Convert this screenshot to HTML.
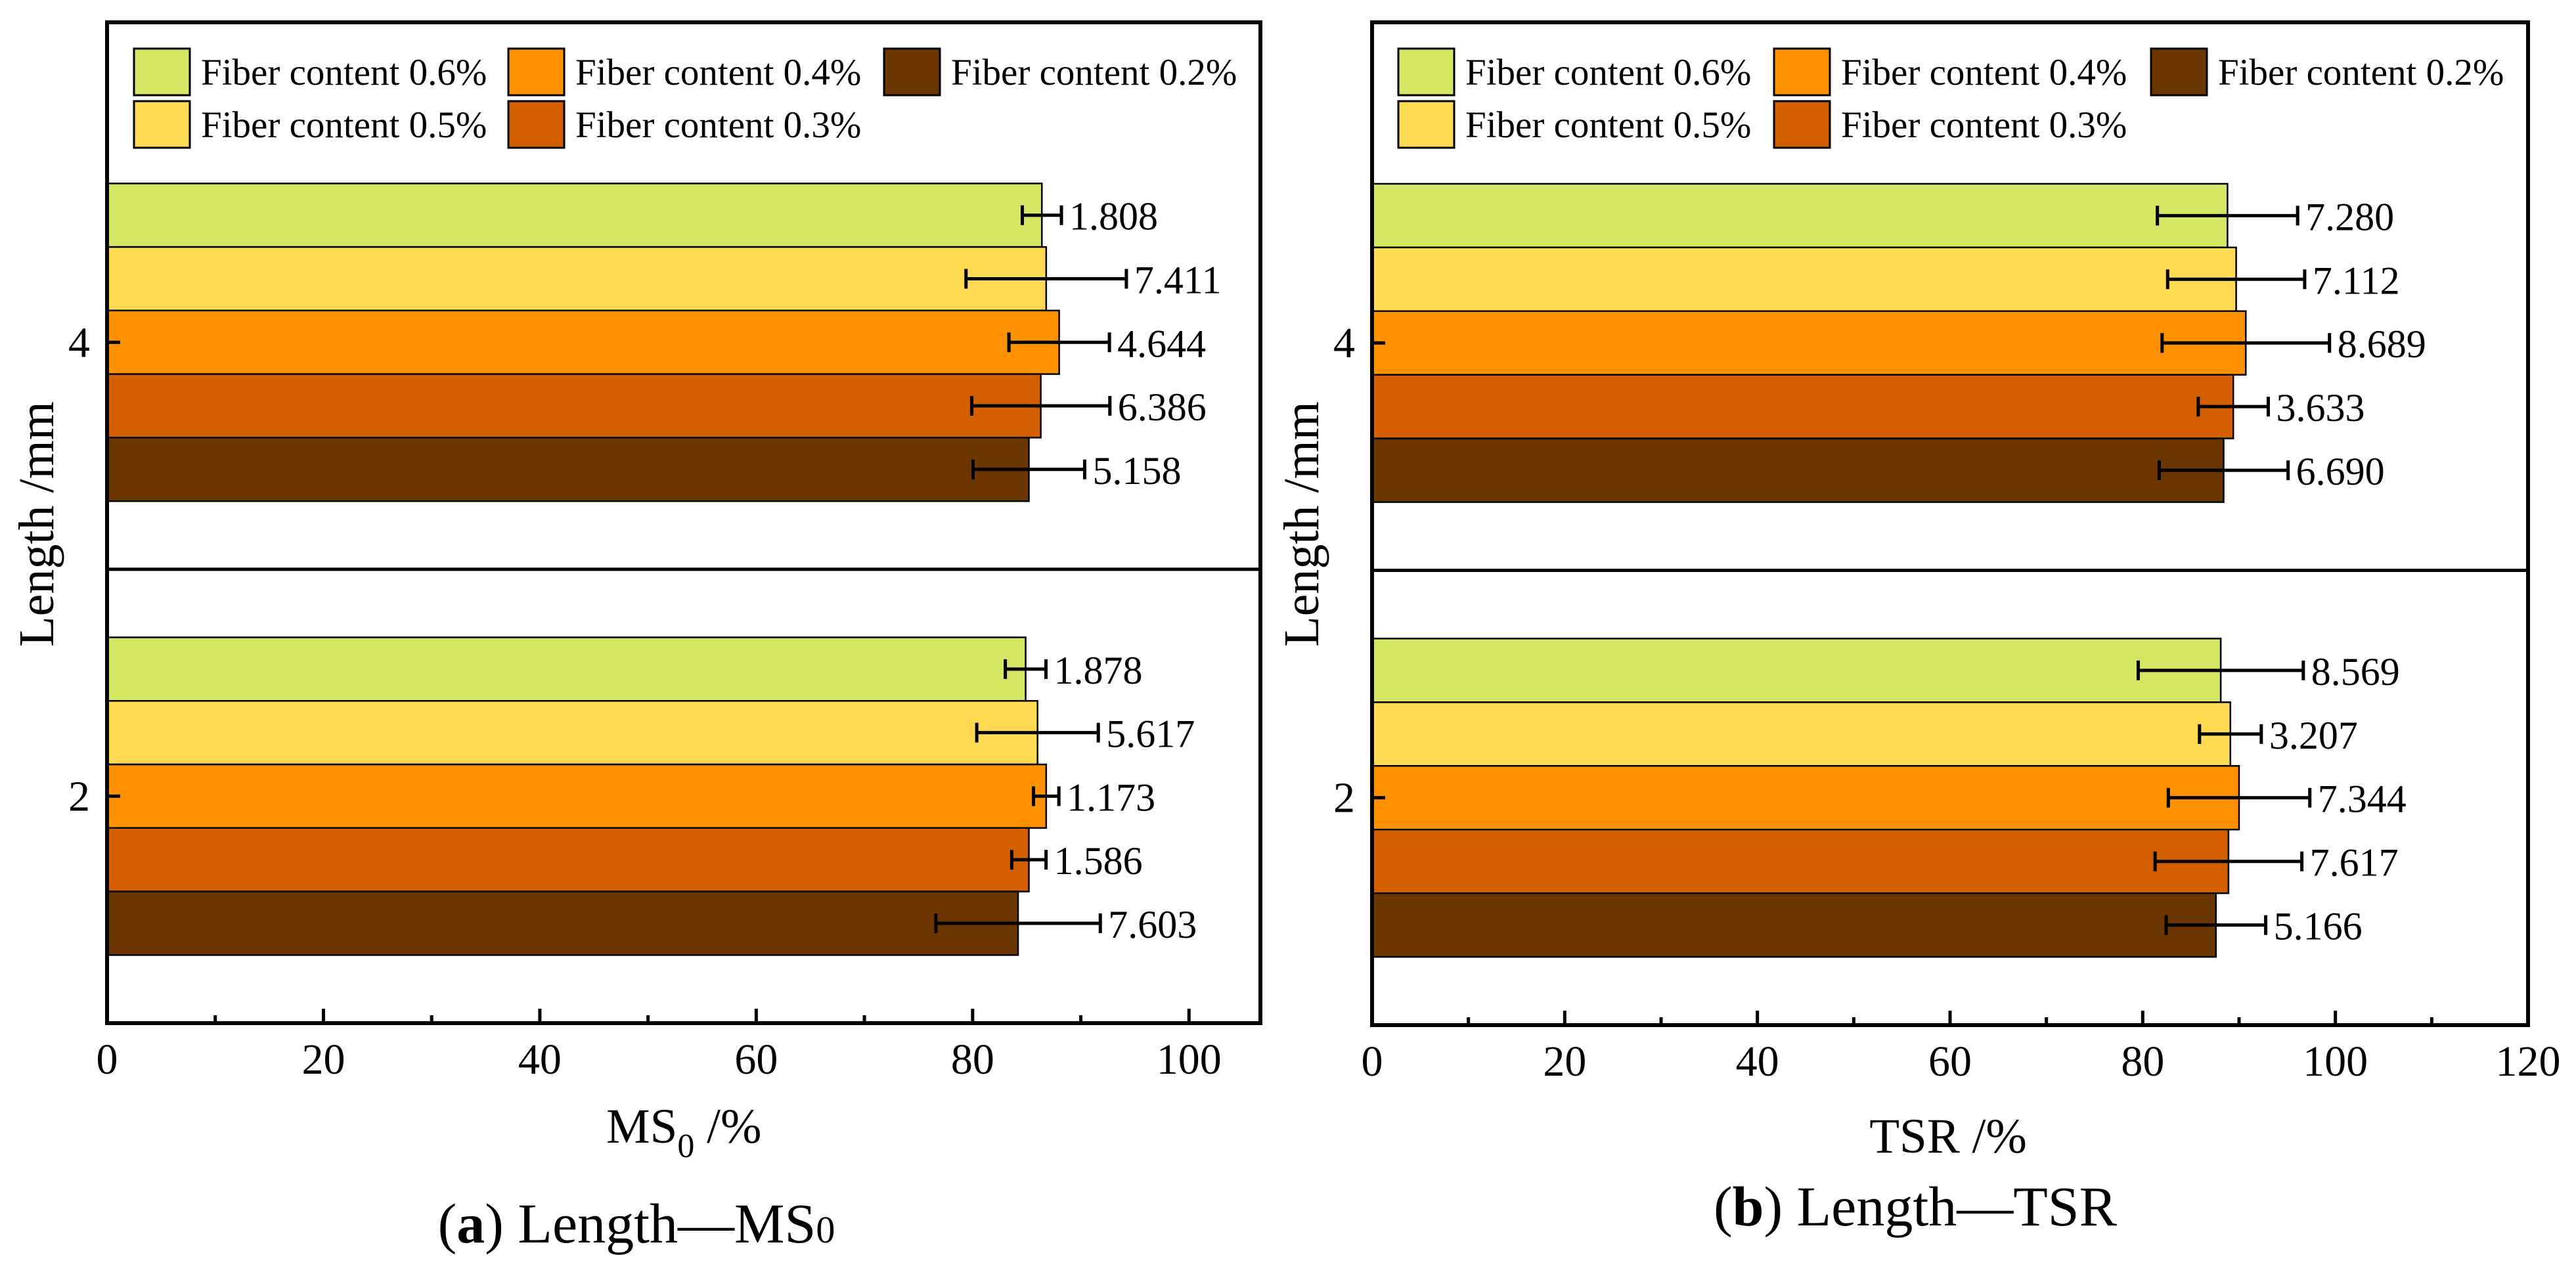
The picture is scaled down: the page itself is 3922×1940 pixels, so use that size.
<!DOCTYPE html>
<html><head><meta charset="utf-8"><style>
html,body{margin:0;padding:0;background:#fff;}
svg{display:block;font-family:"Liberation Serif","DejaVu Serif",serif;}
</style></head><body>
<svg id="chart" width="3922" height="1940" viewBox="0 0 3922 1940" xmlns="http://www.w3.org/2000/svg"></svg>
<script>
const categories = [4, 2];
const seriesNames = ["Fiber content 0.6%", "Fiber content 0.5%", "Fiber content 0.4%", "Fiber content 0.3%", "Fiber content 0.2%"];
const seriesColors = ["#d4e664", "#fedb52", "#fe9100", "#d45f00", "#6c3600"];
// Panel a: MS0 values per category [len4, len2] for each series
const msValues = [[86.4, 84.9], [86.8, 86.0], [88.0, 86.8], [86.3, 85.2], [85.2, 84.2]];
const msErrors = [[1.808, 1.878], [7.411, 5.617], [4.644, 1.173], [6.386, 1.586], [5.158, 7.603]];
const msTicks = [0, 20, 40, 60, 80, 100];
// Panel b: TSR values
const tsrValues = [[88.8, 88.1], [89.7, 89.1], [90.7, 90.0], [89.4, 88.9], [88.4, 87.6]];
const tsrErrors = [[7.280, 8.569], [7.112, 3.207], [8.689, 7.344], [3.633, 7.617], [6.690, 5.166]];
const tsrTicks = [0, 20, 40, 60, 80, 100, 120];

const svg = document.getElementById('chart');
const NS = 'http://www.w3.org/2000/svg';
function mk(tag, attrs, parent) {
  const e = document.createElementNS(NS, tag);
  for (const k in attrs) e.setAttribute(k, attrs[k]);
  (parent || svg).appendChild(e);
  return e;
}

function panel(cfg) {
  const g = mk('g', {});
  
  
  const L = cfg.left, R = cfg.right, T = 34, B = cfg.bottom;
  const xs = v => L + (v - 0) / (cfg.xmax - 0) * (R - L);
  const ymin = 1.0, ymax = 5.41;
  const ys = v => T + (ymax - v) / (ymax - ymin) * (B - T);
  const groupW = 1.4, barH = groupW / 5;

  // bars
  categories.forEach((c, ci) => {
    seriesNames.forEach((s, si) => {
      const y0 = ys(c + groupW / 2 - si * barH);
      const y1 = ys(c + groupW / 2 - (si + 1) * barH);
      const v = cfg.values[si][ci];
      const r = mk('rect', {x: xs(0), y: y0, width: xs(v) - xs(0), height: y1 - y0, fill: seriesColors[si], stroke: '#000', 'stroke-width': 2.5}, g);
      
      
      const e = cfg.errors[si][ci];
      const yc = (y0 + y1) / 2;
      const eg = mk('g', {stroke: '#000', 'stroke-width': 5}, g);
      
      
      mk('line', {x1: xs(v - e), x2: xs(v + e), y1: yc, y2: yc}, eg);
      mk('line', {x1: xs(v - e), x2: xs(v - e), y1: yc - 15, y2: yc + 15}, eg);
      mk('line', {x1: xs(v + e), x2: xs(v + e), y1: yc - 15, y2: yc + 15}, eg);
      const t = mk('text', {x: xs(v + e) + 12, y: yc + 22, 'font-size': 60}, g);
      t.textContent = e.toFixed(3);
      
      
    });
  });

  // divider
  const dv = mk('line', {x1: L, x2: R, y1: ys(3), y2: ys(3), stroke: '#000', 'stroke-width': 5}, g);
  
  

  // frame
  const fr = mk('rect', {x: L, y: T, width: R - L, height: B - T, fill: 'none', stroke: '#000', 'stroke-width': 6}, g);
  
  

  // x ticks
  const step = 10;
  for (let v = 0; v <= cfg.xmax + 0.01; v += step) {
    const major = cfg.ticks.indexOf(v) >= 0;
    mk('line', {x1: xs(v), x2: xs(v), y1: B, y2: B - (major ? 22 : 12), stroke: '#000', 'stroke-width': 5}, g);
  }
  cfg.ticks.forEach(v => {
    const t = mk('text', {x: xs(v), y: B + 77, 'font-size': 66, 'text-anchor': 'middle'}, g);
    t.textContent = v;
    
    
  });
  // y ticks
  categories.forEach(c => {
    mk('line', {x1: L, x2: L + 20, y1: ys(c), y2: ys(c), stroke: '#000', 'stroke-width': 5}, g);
    const t = mk('text', {x: L - 26, y: ys(c) + 22, 'font-size': 66, 'text-anchor': 'end'}, g);
    t.textContent = c;
    
    
  });
  // y title
  const yt = mk('text', {x: 0, y: 0, 'font-size': 76, 'text-anchor': 'middle', transform: 'translate(' + (L - 82) + ',' + 798 + ') rotate(-90)'}, g);
  yt.textContent = 'Length /mm';
  
  

  // legend
  const legX = cfg.legX, legRowY = [74, 154];
  const slots = [[0, 0], [0, 1], [1, 0], [1, 1], [2, 0]];
  seriesNames.forEach((s, si) => {
    const lg = mk('g', {}, g);
    
    
    const [col, row] = slots[si];
    const x = legX[col], y = legRowY[row];
    mk('rect', {x: x, y: y, width: 85, height: 71, fill: seriesColors[si], stroke: '#000', 'stroke-width': 3}, lg);
    const t = mk('text', {x: x + 102, y: y + 55, 'font-size': 57}, lg);
    t.textContent = s;
  });
  return {xs, B};
}

panel({id: 'ms', left: 163, right: 1919, bottom: 1558, xmax: 106.6, values: msValues, errors: msErrors, ticks: msTicks, legX: [204, 774, 1346]});
panel({id: 'tsr', left: 2089, right: 3849, bottom: 1561, xmax: 120, values: tsrValues, errors: tsrErrors, ticks: tsrTicks, legX: [2129, 2701, 3275]});

// axis titles & captions
let t;
t = mk('text', {x: 923, y: 1740, 'font-size': 75});
t.innerHTML = 'MS<tspan font-size="52" dy="22">0</tspan><tspan dy="-22"> /%</tspan>';


t = mk('text', {x: 2966, y: 1755, 'font-size': 75, 'text-anchor': 'middle'});
t.textContent = 'TSR /%';


t = mk('text', {x: 969, y: 1892, 'font-size': 86, 'text-anchor': 'middle'});
t.innerHTML = '(<tspan font-weight="bold">a</tspan>) Length\u2014MS<tspan font-size="58">0</tspan>';


t = mk('text', {x: 2916, y: 1866, 'font-size': 86, 'text-anchor': 'middle'});
t.innerHTML = '(<tspan font-weight="bold">b</tspan>) Length\u2014TSR';


</script>
</body></html>
